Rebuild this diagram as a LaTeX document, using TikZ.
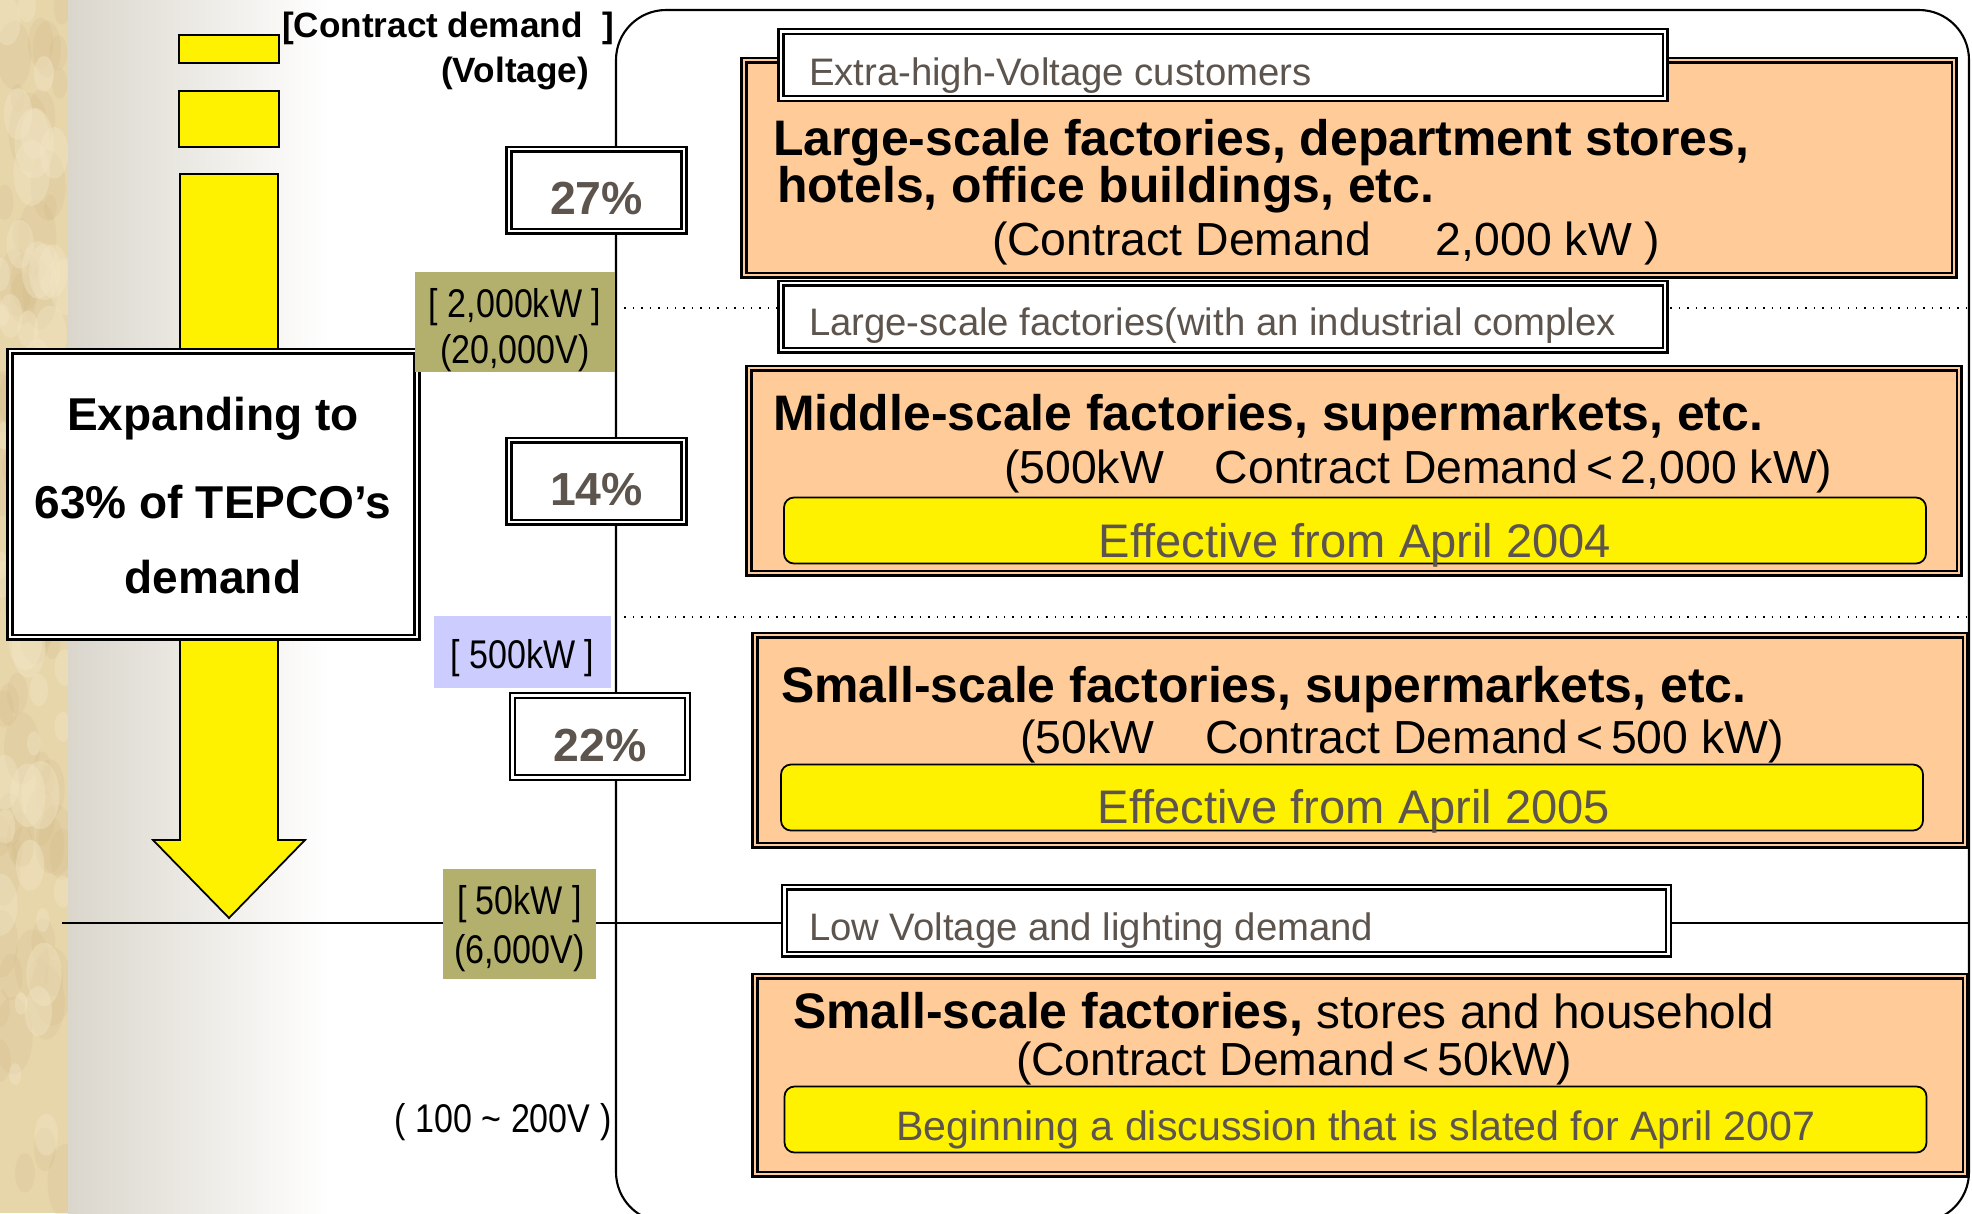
\documentclass[tikz,border=0pt]{standalone}
\usepackage{fontspec}
\setmainfont{Liberation Sans}
\newfontfamily\narrowsf{Liberation Sans}[FakeStretch=0.85]
\usetikzlibrary{positioning}

\definecolor{peach}{RGB}{255,204,153}
\definecolor{txtgray}{RGB}{92,84,77}
\definecolor{kwolive}{RGB}{179,176,110}
\definecolor{kwlav}{RGB}{204,204,255}
\definecolor{marble}{RGB}{232,214,171}
\definecolor{marbledark}{RGB}{212,190,140}
\definecolor{marblelight}{RGB}{243,230,198}
\definecolor{fadegray}{RGB}{218,214,204}

\begin{document}
\begin{tikzpicture}[x=0.1mm,y=-0.1mm]
\def\px{0.1mm}
\tikzset{
  every node/.style={inner sep=0pt,outer sep=0pt},
  dbl/.style={draw=black,line width=0.65pt,double distance=0.7pt},
  pct/.style={dbl,double=white,fill=white,minimum width=175*\px,minimum height=82*\px,
    font=\fontsize{13.2}{15}\selectfont\bfseries,text=txtgray,text height=49*\px,text depth=0pt},
  catbox/.style={dbl,double=peach,fill=peach,minimum width=1210*\px},
  headbox/.style={dbl,double=white,fill=white,minimum width=884*\px,minimum height=67*\px},
  headtxt/.style={anchor=base west,text=txtgray,font=\fontsize{10.9}{12}\selectfont},
  bigtxt/.style={anchor=base west,font=\fontsize{14.2}{16}\selectfont\bfseries},
  cdtxt/.style={anchor=base west,font=\fontsize{13.2}{15}\selectfont},
  datebox/.style={draw=black,line width=0.5pt,fill=yellow,rounded corners=1mm,
    minimum width=1142*\px,minimum height=66*\px},
  datetxt/.style={anchor=base,text=txtgray,font=\fontsize{13.4}{15}\selectfont},
  kwbox/.style={inner sep=0pt},
  kwtxt/.style={align=center,font=\narrowsf\fontsize{11.4}{13}\selectfont},
  exptxt/.style={anchor=base,font=\fontsize{13.1}{15}\selectfont\bfseries},
  bar/.style={draw=black,line width=0.5pt,fill=yellow}
}

%BACKGROUND
\useasboundingbox (0,0) rectangle (1972,1213);
\fill[white] (0,0) rectangle (1972,1213);
\fill[marble] (0,0) rectangle (68,1213);
\begin{scope}
  \clip (0,0) rectangle (68,1213);
  \pgfmathsetseed{11}
  \foreach \k in {1,...,70}{
    \pgfmathsetmacro\mx{rnd*68}
    \pgfmathsetmacro\my{rnd*1213}
    \pgfmathsetmacro\mr{6+rnd*14}
    \fill[marbledark,opacity=0.25] (\mx,\my) ellipse ({\mr*\px} and {2*\mr*\px});
  }
  \foreach \k in {1,...,50}{
    \pgfmathsetmacro\mx{rnd*68}
    \pgfmathsetmacro\my{rnd*1213}
    \pgfmathsetmacro\mr{6+rnd*14}
    \fill[marblelight,opacity=0.4] (\mx,\my) ellipse ({\mr*\px} and {1.8*\mr*\px});
  }
\end{scope}
\shade[left color=fadegray,right color=white] (68,0) rectangle (330,1213);

%LEVEL LINES
\coordinate (D1L) at (616,308);
\coordinate (D1R) at (1968,308);
\coordinate (D2L) at (616,617);
\coordinate (D2R) at (1968,617);
\coordinate (LVL) at (62,923);
\coordinate (LVR) at (1968,923);
\draw[dotted,line width=0.4pt] (D1L) -- (D1R);
\draw[dotted,line width=0.4pt] (D2L) -- (D2R);
\draw[line width=0.6pt] (LVL) -- (LVR);

%FRAME
\draw[line width=0.6pt,rounded corners=5mm] (616,10) rectangle (1969,1222);

%ARROW
\draw[bar] (179,35) rectangle (279,63);
\draw[bar] (179,91) rectangle (279,147);
\draw[bar] (180,174) -- (278,174) -- (278,840) -- (305,840) -- (229,918)
  -- (153,840) -- (180,840) -- cycle;

\node[dbl,double=white,fill=white,minimum width=407*\px,minimum height=286*\px] (EXPAND) at (213.5,494) {};
\node[exptxt] (EXP1) at (213,430) {Expanding to};
\node[exptxt] (EXP2) at (213,518) {63\% of TEPCO’s};
\node[exptxt] (EXP3) at (213,593) {demand};

%SCALE
\node[anchor=base east,font=\fontsize{10}{12}\selectfont\bfseries] (CDEM) at (614,37) {[Contract demand\ \ ]};
\node[anchor=base east,font=\fontsize{10}{12}\selectfont\bfseries] (VOLT) at (589,82) {(Voltage)};
\node[pct] (P27) at (596.5,190) {27\%};
\node[pct] (P14) at (596.5,481) {14\%};
\node[pct] (P22) at (600,736.5) {22\%};
\node[kwbox,fill=kwolive,minimum width=200*\px,minimum height=100*\px] (KW2000) at (515,322) {};
\node[kwtxt] (KW2000T) at ([yshift=-0.8mm]KW2000.center) {[ 2,000kW ]\\(20,000V)};
\node[kwbox,fill=kwlav,minimum width=177*\px,minimum height=72*\px] (KW500) at (522.5,652) {};
\node[kwtxt] (KW500T) at ([yshift=-0.6mm]KW500.center) {[ 500kW ]};
\node[kwbox,fill=kwolive,minimum width=153*\px,minimum height=110*\px] (KW50) at (519.5,924) {};
\node[kwtxt] (KW50T) at ([yshift=-0.5mm]KW50.center) {[ 50kW ]\\[1pt](6,000V)};
\node[kwtxt] (V100) at (503,1122) {( 100 \textasciitilde\ 200V )};

%EXTRA HIGH VOLTAGE
\node[catbox,minimum height=215*\px] (LARGE) at (1349,167.5) {};
\node[headbox] (EHV) at (1223,65) {};
\node[headtxt] (EHVT) at (809,85) {Extra-high-Voltage customers};
\node[bigtxt] (LARGE1) at (773,155) {Large-scale factories, department stores,};
\node[bigtxt] (LARGE2) at (777,202) {hotels, office buildings, etc.};
\node[cdtxt] (LARGE3) at (992,255) {(Contract Demand\hspace{1.4em}2,000 kW )};
\node[headbox] (LSF) at (1223,316.5) {};
\node[headtxt] (LSFT) at (809,335) {Large-scale factories(with an industrial complex};

%HIGH VOLTAGE
\node[catbox,minimum height=205*\px] (MID) at (1354,470.5) {};
\node[bigtxt] (MID1) at (773,430) {Middle-scale factories, supermarkets, etc.};
\node[cdtxt] (MID2) at (1004,483) {(500kW\hspace{1.1em}Contract Demand\,<\,2,000 kW)};
\node[datebox] (MIDD) at (1355,530.5) {};
\node[datetxt] (MIDDT) at (1355,557) {Effective from April 2004};

\node[catbox,minimum height=210*\px] (SMALL) at (1360,740) {};
\node[bigtxt] (SMALL1) at (781,702) {Small-scale factories, supermarkets, etc.};
\node[cdtxt] (SMALL2) at (1020,753) {(50kW\hspace{1.1em}Contract Demand\,<\,500 kW)};
\node[datebox] (SMALLD) at (1352,797.5) {};
\node[datetxt] (SMALLDT) at (1354,823) {Effective from April 2005};

%LOW VOLTAGE
\node[headbox] (LOW) at (1226.5,920.5) {};
\node[headtxt] (LOWT) at (809,940) {Low Voltage and lighting demand};
\node[catbox,minimum height=198*\px] (HOUSE) at (1360,1075) {};
\node[bigtxt] (HOUSE1) at (793,1028) {Small-scale factories,\mdseries\fontsize{13.6}{16}\selectfont\ stores and household};
\node[cdtxt] (HOUSE2) at (1016,1075) {(Contract Demand\,<\,50kW)};
\node[datebox] (HOUSED) at (1355.5,1119.5) {};
\node[datetxt,font=\fontsize{11.7}{13}\selectfont] (HOUSEDT) at (1356,1140) {Beginning a discussion that is slated for April 2007};

\end{tikzpicture}
\end{document}
